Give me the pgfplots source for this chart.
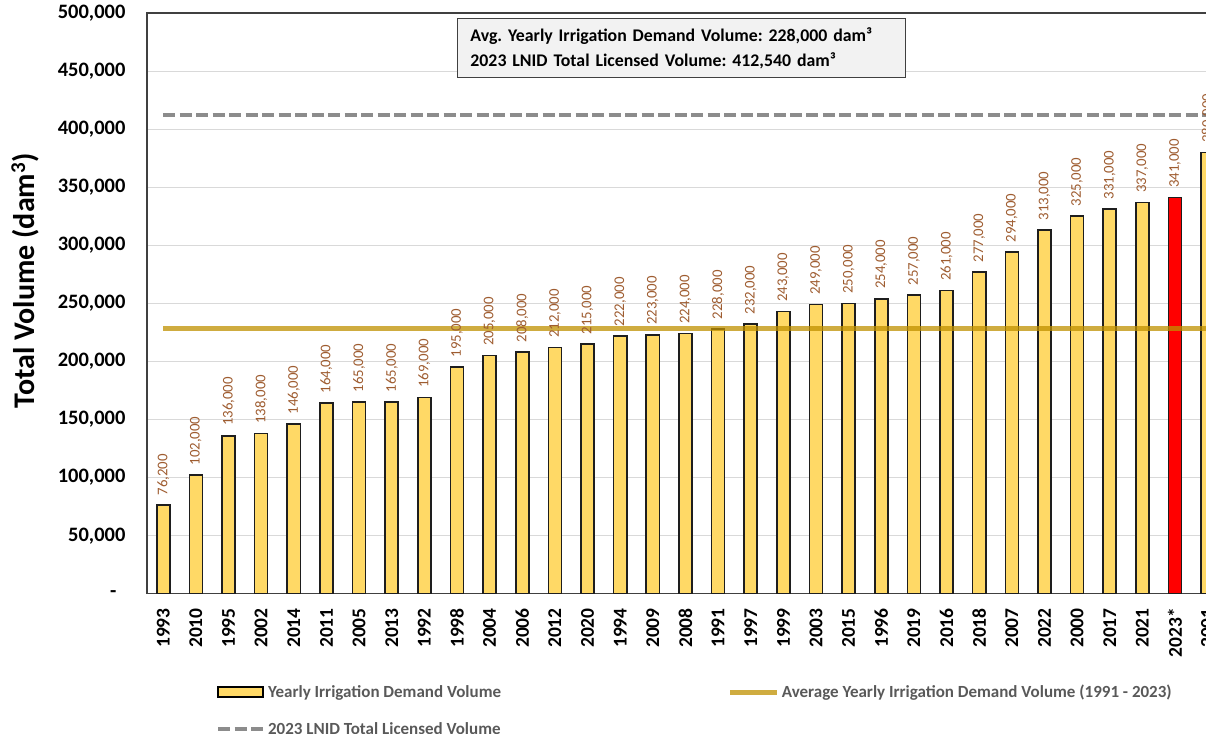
\documentclass[border=0pt]{standalone}
\usepackage{fontspec}
\setmainfont{Carlito}
\usepackage{pgfplots}
\pgfplotsset{compat=1.18}

\definecolor{baryellow}{RGB}{255,217,102}
\definecolor{barred}{RGB}{255,0,0}
\definecolor{barline}{RGB}{30,30,30}
\definecolor{avggold}{RGB}{191,144,0}
\definecolor{licgray}{RGB}{140,140,140}
\definecolor{lblbrown}{RGB}{158,92,48}
\definecolor{framegray}{RGB}{64,64,64}
\definecolor{gridgray}{RGB}{217,217,217}
\definecolor{leggray}{RGB}{89,89,89}

\begin{document}
\frenchspacing
\begin{tikzpicture}
\begin{axis}[
  scale only axis, width=1077.5pt, height=581pt,
  xmin=-0.5, xmax=32.5, ymin=0, ymax=500000,
  axis line style={framegray, line width=1.3pt},
  ymajorgrids, grid style={gridgray, line width=1pt},
  major tick length=0pt,
  /pgf/number format/assume math mode=true,
  xtick={0,...,32},
  xticklabels={1993,2010,1995,2002,2014,2011,2005,2013,1992,1998,2004,2006,2012,2020,1994,2009,2008,1991,1997,1999,2003,2015,1996,2019,2016,2018,2007,2022,2000,2017,2021,2023*,2001},
  xticklabel style={rotate=90, anchor=east, xshift=-11pt, font=\fontsize{19.5}{20}\selectfont\bfseries},
  ytick={0,50000,...,500000},
  yticklabels={-\hspace*{9pt},{50,000},{100,000},{150,000},{200,000},{250,000},{300,000},{350,000},{400,000},{450,000},{500,000}},
  yticklabel style={xshift=-18pt, font=\fontsize{20.5}{21}\selectfont\bfseries},
  ylabel={Total Volume (dam\textsuperscript{3})},
  ylabel style={at={(axis description cs:-0.1132,0.539)}, anchor=center, font=\fontsize{30}{32}\selectfont\bfseries},
  legend columns=2,
  legend cell align=left,
  legend style={draw=none, fill=none, at={(axis description cs:0.0613,-0.150)}, anchor=north west,
    font=\fontsize{17}{19}\selectfont\bfseries, text=leggray, row sep=19pt,
    /tikz/every even column/.append style={column sep=0pt}},
]
\addplot[ybar, bar width=0.4, bar shift=0pt, fill=baryellow, draw=barline, line width=1.6pt,
  nodes near coords, /pgf/number format/.cd, fixed, precision=0, 1000 sep={,}, /pgfplots/.cd,
  every node near coord/.append style={rotate=90, anchor=west, inner xsep=9pt, inner ysep=0pt,
    font=\fontsize{14.8}{16}\selectfont, text=lblbrown},
  legend image code/.code={\draw[fill=baryellow, draw=black, line width=1.5pt] (0pt,-5pt) rectangle (45pt,5pt);}]
  coordinates {(0,76200) (1,102000) (2,136000) (3,138000) (4,146000) (5,164000) (6,165000) (7,165000) (8,169000) (9,195000) (10,205000) (11,208000) (12,212000) (13,215000) (14,222000) (15,223000) (16,224000) (17,228000) (18,232000) (19,243000) (20,249000) (21,250000) (22,254000) (23,257000) (24,261000) (25,277000) (26,294000) (27,313000) (28,325000) (29,331000) (30,337000) (32,380000)};
\addlegendentry{\makebox[458pt][l]{Yearly Irrigation Demand Volume}}
\addplot[ybar, bar width=0.4, bar shift=0pt, fill=barred, draw=barline, line width=1.6pt, forget plot,
  nodes near coords, /pgf/number format/.cd, fixed, precision=0, 1000 sep={,}, /pgfplots/.cd,
  every node near coord/.append style={rotate=90, anchor=west, inner xsep=9pt, inner ysep=0pt,
    font=\fontsize{14.8}{16}\selectfont, text=lblbrown}]
  coordinates {(31,341000)};
\addplot[avggold, opacity=0.75, line width=5pt,
  legend image code/.code={\draw[avggold, opacity=0.75, line width=5pt] (0pt,0pt) -- (47pt,0pt);}]
  coordinates {(0,228000) (32,228000)};
\addlegendentry{Average Yearly Irrigation Demand Volume (1991 - 2023)}
\addplot[licgray, line width=4pt, dash pattern=on 12pt off 4.5pt,
  legend image code/.code={\draw[licgray, line width=4pt, dash pattern=on 12pt off 4.5pt] (0pt,0pt) -- (46pt,0pt);}]
  coordinates {(0,412540) (32,412540)};
\addlegendentry{2023 LNID Total Licensed Volume}
\node[draw=framegray, line width=1.3pt, fill=black!5, anchor=north west, align=left,
  text width=422pt, inner xsep=13pt, inner ysep=6pt, minimum height=59pt,
  font=\fontsize{17.8}{25}\selectfont\bfseries]
  at (rel axis cs:0.2877,0.9914)
  {Avg. Yearly Irrigation Demand Volume: 228,000 dam³\\
   2023 LNID Total Licensed Volume: 412,540 dam³};
\end{axis}
\pgfresetboundingbox
\path[use as bounding box] (-147pt,-140pt) rectangle (1059.5pt,594pt);
\end{tikzpicture}
\end{document}
